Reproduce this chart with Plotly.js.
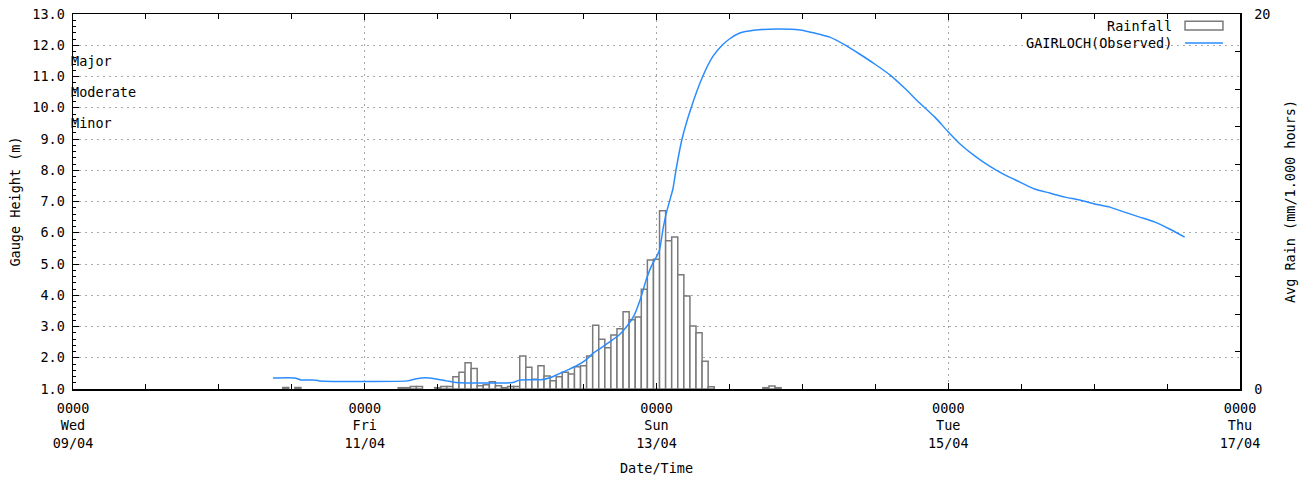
<!DOCTYPE html>
<html>
<head>
<meta charset="utf-8">
<script src="https://cdn.plot.ly/plotly-3.0.1.min.js"></script>
<style>html,body{margin:0;padding:0;background:#fff}#chart{width:1314px;height:484px}</style>
</head>
<body>
<div id="chart"></div>
<script>
// Time origin: Wed 09/04 00:00, values are hours after it
const START = Date.UTC(2025, 3, 9);
const HOUR = 3600000;

// Rainfall (mm per hour), hourly bars
const rainHours = [35,37,54,55,56,57,60,61,62,63,64,65,66,67,68,69,70,71,72,73,74,75,76,77,78,79,80,81,82,83,84,85,86,87,88,89,90,91,92,93,94,95,96,97,98,99,100,101,102,103,104,105,114,115,116];
const rainValues = [0.08,0.08,0.07,0.07,0.14,0.14,0.07,0.14,0.14,0.66,0.89,1.40,1.10,0.18,0.23,0.39,0.18,0.07,0.14,0.14,1.76,1.16,0.52,1.24,0.69,0.44,0.66,0.89,0.80,1.19,1.24,1.76,3.40,2.65,2.20,2.88,3.22,4.12,3.70,3.84,5.32,6.88,6.92,9.51,7.91,8.11,6.10,4.96,3.36,3.00,1.48,0.12,0.07,0.16,0.07];

// GAIRLOCH (Observed) gauge height (m)
const levelHours = [32.9,36.5,37.5,39.5,40.5,55,56.5,58,59.5,61.5,63,72.4,73.5,77,78.5,80.1,81.5,83,84.5,85.6,87,88.3,89.8,91.1,92.3,93.3,94.4,95.2,96,96.5,97.1,97.6,98.2,98.7,99.2,100.2,101.7,103.6,105.3,106.8,108,109.7,112,116,119.6,122,124.5,127,129.4,131.9,134.4,136.8,139.3,141.8,143.9,145.9,148.4,150.8,153.3,155.8,158.2,160.7,163.2,165.6,168.1,170.6,173,175.5,178,180.4,182.9];
const levelValues = [1.35,1.35,1.29,1.29,1.26,1.26,1.33,1.36,1.33,1.26,1.21,1.21,1.29,1.30,1.36,1.50,1.62,1.76,1.95,2.15,2.33,2.51,2.72,3.00,3.35,3.85,4.55,4.95,5.23,5.45,6.15,6.62,7.05,7.40,8.00,9.00,10.00,11.00,11.65,12.00,12.20,12.39,12.48,12.52,12.49,12.39,12.26,12.01,11.72,11.40,11.05,10.63,10.15,9.70,9.25,8.85,8.45,8.13,7.85,7.62,7.40,7.27,7.14,7.05,6.92,6.82,6.66,6.50,6.34,6.12,5.86];

// Flood warning levels
const levelNames = ['Major', 'Moderate', 'Minor'];
const levelHeights = [11.5, 10.5, 9.5];

const toTime = h => START + h * HOUR;
const FONT = 'DejaVu Sans Mono, monospace';
const FS = 13.5;
const GRID = '#a8a8a8';

const rainTrace = {
  type: 'bar', name: 'Rainfall',
  x: rainHours.map(toTime), y: rainValues,
  width: HOUR, yaxis: 'y', xaxis: 'x',
  marker: {color: '#ffffff', line: {color: '#7a7a7a', width: 1.5}},
  hoverinfo: 'skip', showlegend: false
};
const levelTrace = {
  type: 'scatter', mode: 'lines', name: 'GAIRLOCH(Observed)',
  x: levelHours.map(toTime), y: levelValues,
  yaxis: 'y2', xaxis: 'x',
  line: {color: '#2b8cff', width: 1.5, shape: 'spline', smoothing: 0.6},
  hoverinfo: 'skip', showlegend: false
};

const annotations = levelNames.map((n, i) => ({
  text: n, xref: 'paper', x: 0, xanchor: 'left', xshift: -4,
  yref: 'y2', y: levelHeights[i], yanchor: 'middle', showarrow: false,
  font: {family: FONT, size: FS, color: '#000'}
}));
// legend (text to the left of the symbol, as in the reference)
annotations.push(
  {text: 'Rainfall', xref: 'paper', x: 0.9435, xanchor: 'right', yref: 'paper', y: 0.968, yanchor: 'middle', showarrow: false, font: {family: FONT, size: FS, color: '#000'}},
  {text: 'GAIRLOCH(Observed)', xref: 'paper', x: 0.9435, xanchor: 'right', yref: 'paper', y: 0.9227, yanchor: 'middle', showarrow: false, font: {family: FONT, size: FS, color: '#000'}}
);
const shapes = [
  {type: 'rect', xref: 'paper', yref: 'paper', x0: 0.9529, x1: 0.9854, y0: 0.9573, y1: 0.9808, line: {color: '#7a7a7a', width: 1.5}, fillcolor: '#ffffff'},
  {type: 'line', xref: 'paper', yref: 'paper', x0: 0.9529, x1: 0.9854, y0: 0.9227, y1: 0.9227, line: {color: '#2b8cff', width: 1.5}}
];

const rainTicks = [0,2,4,6,8,10,12,14,16,18,20];

const layout = {
  width: 1314, height: 484,
  margin: {l: 73, r: 74, t: 14, b: 95, pad: 0},
  paper_bgcolor: '#fff', plot_bgcolor: '#fff',
  font: {family: FONT, size: FS, color: '#000'},
  showlegend: false, bargap: 0,
  xaxis: {
    type: 'date', range: [toTime(0), toTime(192)],
    tick0: toTime(0), dtick: 48 * HOUR, tickformat: '%H%M<br>%a<br>%d/%m',
    ticks: 'inside', ticklen: 6, tickwidth: 1, tickcolor: '#000', ticklabelstandoff: 6,
    minor: {dtick: 12 * HOUR, tick0: toTime(0), ticks: 'inside', ticklen: 5, tickcolor: '#000', showgrid: false},
    showline: true, linecolor: '#000', linewidth: 1.5, mirror: 'ticks',
    showgrid: true, gridcolor: GRID, griddash: '2px,4px', gridwidth: 1,
    zeroline: false, automargin: false,
    title: {text: 'Date/Time', font: {family: FONT, size: FS}, standoff: 14}
  },
  yaxis: {
    side: 'right', range: [0, 20],
    tickmode: 'array', tickvals: rainTicks, ticktext: rainTicks.map(v => (v === 0 || v === 20) ? String(v) : ''),
    ticks: 'inside', ticklen: 5, tickcolor: '#000', ticklabelstandoff: 10,
    showline: true, linecolor: '#000', linewidth: 1.5,
    showgrid: false, zeroline: false, automargin: false,
    title: {text: 'Avg Rain (mm/1.000 hours)', font: {family: FONT, size: FS}, standoff: 16}
  },
  yaxis2: {
    overlaying: 'y', side: 'left', range: [1, 13],
    dtick: 1, tick0: 1, tickformat: '.1f',
    ticks: 'inside', ticklen: 6, tickcolor: '#000', ticklabelstandoff: 4,
    minor: {dtick: 0.2, ticks: 'inside', ticklen: 3, tickcolor: '#000', showgrid: false},
    showline: true, linecolor: '#000', linewidth: 1.5,
    showgrid: true, gridcolor: GRID, griddash: '2px,4px', gridwidth: 1,
    zeroline: false, automargin: false,
    title: {text: 'Gauge Height (m)', font: {family: FONT, size: FS}, standoff: 8}
  },
  annotations: annotations,
  shapes: shapes
};

Plotly.newPlot('chart', [rainTrace, levelTrace], layout, {staticPlot: true, displayModeBar: false});
</script>
</body>
</html>
